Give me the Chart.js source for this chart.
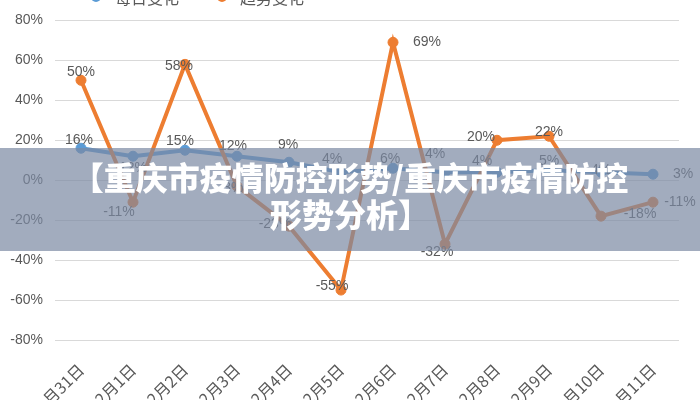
<!DOCTYPE html>
<html>
<head>
<meta charset="utf-8">
<script src="https://cdn.jsdelivr.net/npm/chart.js@4.4.1/dist/chart.umd.min.js"></script>
<style>
  body { margin: 0; background: #fff; }
  #wrap { position: relative; width: 700px; height: 400px; overflow: hidden; background: #fff; }
  #c { position: absolute; left: 0; top: 0; }
  #legend { position: absolute; top: -11px; left: 0; height: 16px; font: 16px "Noto Sans CJK SC", sans-serif; color: #595959; line-height: 16px; }
  .lg { position: absolute; top: 0; white-space: nowrap; }
  .mk { position: absolute; top: 6px; width: 24px; height: 4px; }
  .mk i { position: absolute; left: 7px; top: -3px; width: 10px; height: 10px; border-radius: 50%; }
  #banner { position: absolute; left: 0; top: 148px; width: 700px; height: 103px; background: rgba(122,137,162,.7);
    color: #fff; font: 900 32px "Noto Sans CJK SC", sans-serif; line-height: 37px; text-align: center; padding-top: 10px; box-sizing: border-box; }
</style>
</head>
<body>
<div id="wrap">
  <canvas id="c" width="700" height="400"></canvas>
  <div id="legend"></div>
  <div id="banner"><div>【重庆市疫情防控形势/重庆市疫情防控</div><div>形势分析】</div></div>
</div>
<script>
const categories = ['1月31日', '2月1日', '2月2日', '2月3日', '2月4日', '2月5日', '2月6日', '2月7日', '2月8日', '2月9日', '2月10日', '2月11日'];
const seriesNames = ['每日变化', '趋势变化'];
const dailyChange = [16, 12, 15, 12, 9, 4, 6, 4, 4, 5, 4, 3];
const trendChange = [50, -11, 58, -3, -23, -55, 69, -32, 20, 22, -18, -11];
const yMin = -80, yMax = 80, yStep = 20;

const BLUE = '#5b9bd5';
const ORANGE = '#ed7d31';

// label offsets (dx, dy) from each point, per series
const labelOffsets = [
  [[-2, -8], [0, 12], [-5, -9], [-4, -10], [-1, -17], [-9, -13], [-3, -9], [-10, -18], [-15, -11], [0, -9], [0, -2], [30, 0]],
  [[0, -8], [-14, 10], [-6, 2], [-6, 2], [-14, -2], [-9, -4], [34, 0], [-8, 8], [-16, -3], [0, -4], [39, -2], [27, 0]]
];

const pointLabels = {
  id: 'pointLabels',
  afterDatasetsDraw(chart) {
    const ctx = chart.ctx;
    ctx.save();
    ctx.font = '14px "Liberation Sans", sans-serif';
    ctx.fillStyle = '#595959';
    ctx.textAlign = 'center';
    ctx.textBaseline = 'middle';
    chart.data.datasets.forEach((ds, di) => {
      const meta = chart.getDatasetMeta(di);
      meta.data.forEach((pt, i) => {
        const off = labelOffsets[di][i];
        ctx.fillText(ds.data[i] + '%', pt.x + off[0], pt.y + off[1]);
      });
    });
    ctx.restore();
  }
};

function serie(label, data, color, order) {
  return {
    label, data, order,
    borderColor: color,
    backgroundColor: color,
    borderWidth: 4,
    pointRadius: 5,
    pointBackgroundColor: color,
    pointBorderColor: color,
    pointBorderWidth: 1,
    tension: 0,
    fill: false
  };
}

new Chart(document.getElementById('c'), {
  type: 'line',
  data: {
    labels: categories,
    datasets: [
      serie(seriesNames[0], dailyChange, BLUE, 1),
      serie(seriesNames[1], trendChange, ORANGE, 0)
    ]
  },
  options: {
    responsive: false,
    animation: false,
    devicePixelRatio: 1,
    layout: { padding: { top: 20, right: 21, left: 0, bottom: 0 } },
    plugins: { legend: { display: false }, tooltip: { enabled: false } },
    scales: {
      x: {
        offset: true,
        grid: { display: false, drawTicks: false },
        border: { display: false },
        ticks: {
          autoSkip: false, minRotation: 45, maxRotation: 45, padding: 20,
          color: '#595959', font: { size: 16, family: '"Noto Sans CJK SC", sans-serif' }
        },
        afterFit: s => { s.height = 60; }
      },
      y: {
        min: yMin, max: yMax,
        grid: { color: '#d9d9d9', lineWidth: 1, drawTicks: false },
        border: { display: false },
        ticks: {
          stepSize: yStep, padding: 12,
          color: '#595959', font: { size: 14, family: '"Liberation Sans", sans-serif' },
          callback: v => v + '%'
        },
        afterFit: s => { s.width = 55; }
      }
    }
  },
  plugins: [pointLabels]
});

// legend
const lg = document.getElementById('legend');
[[seriesNames[0], BLUE, 84, 115], [seriesNames[1], ORANGE, 210, 240]].forEach(([name, col, mx, tx]) => {
  const m = document.createElement('span');
  m.className = 'mk'; m.style.left = mx + 'px'; m.style.background = col;
  m.innerHTML = '<i style="background:' + col + '"></i>';
  lg.appendChild(m);
  const t = document.createElement('span');
  t.className = 'lg'; t.style.left = tx + 'px'; t.textContent = name;
  lg.appendChild(t);
});
</script>
</body>
</html>
